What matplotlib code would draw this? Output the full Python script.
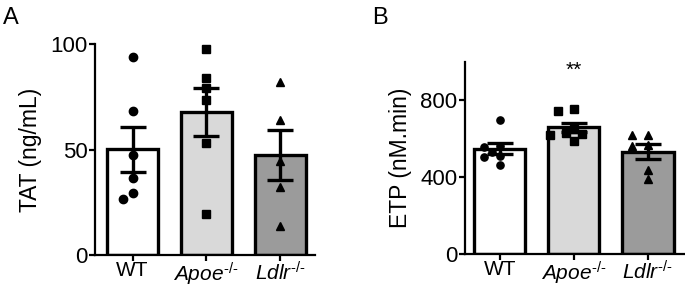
import matplotlib
matplotlib.use("Agg")
import matplotlib.pyplot as plt
import numpy as np

plt.rcParams['font.family'] = ['Liberation Sans', 'DejaVu Sans']
plt.rcParams['mathtext.fontset'] = 'custom'
plt.rcParams['mathtext.rm'] = 'Liberation Sans'
plt.rcParams['mathtext.it'] = 'Liberation Sans:italic'

groups = ['WT', r'$\mathit{Apoe}^{\mathit{\text{-/-}}}$', r'$\mathit{Ldlr}^{\text{-/-}}$']
bar_colors = ['white', '#d9d9d9', '#9b9b9b']
markers = ['o', 's', '^']

# panel A: TAT (ng/mL)
tat_wt = [93.7, 68.2, 47.2, 36.3, 29.2, 26.4]
tat_apoe = [97.5, 84.0, 79.0, 73.5, 53.2, 19.4]
tat_ldlr = [82.1, 64.0, 44.5, 32.1, 13.9]

# panel B: ETP (nM.min)
etp_wt = [696, 563, 556, 530, 512, 505, 465]
etp_apoe = [753, 745, 650, 630, 625, 620, 590]
etp_ldlr = [618, 618, 566, 560, 436, 388]


def swarm(ax, vals, diam_px):
    # simple beeswarm: offsets in pixels, converted to data x
    order = np.argsort(vals)[::-1]
    ypx = ax.transData.transform(np.c_[np.zeros(len(vals)), vals])[:, 1]
    placed = []
    offs = np.zeros(len(vals))
    for i in order:
        for k in [0, -1, 1, -2, 2, -3, 3]:
            ox = k * diam_px * 1.1
            ok = all(np.hypot(ox - px, ypx[i] - py) >= diam_px * 1.15 for px, py in placed)
            if ok:
                placed.append((ox, ypx[i]))
                offs[i] = ox
                break
    x0 = ax.transData.transform((0, 0))[0]
    x1 = ax.transData.transform((1, 0))[0]
    return offs / (x1 - x0)


def panel(ax, data, ylim, ticks, ylabel, msize):
    ax.set_xlim(-0.51, 2.47)
    ax.set_ylim(*ylim)
    for i, vals in enumerate(data):
        vals = np.array(vals, dtype=float)
        m = vals.mean()
        sem = vals.std(ddof=1) / np.sqrt(len(vals))
        ax.bar(i, m, width=0.69, color=bar_colors[i], edgecolor='black',
               linewidth=2.4, zorder=1)
        ax.errorbar(i, m, yerr=sem, color='black', elinewidth=2.4,
                    capsize=9.5, capthick=2.4, zorder=3)
        diam = msize * 100 / 72
        dx = swarm(ax, vals, diam)
        ax.plot(i + dx, vals, linestyle='none', marker=markers[i],
                color='black', markersize=msize, zorder=4, clip_on=False)
    ax.set_yticks(ticks)
    ax.set_xticks(range(3))
    ax.set_xticklabels(groups)
    ax.set_ylabel(ylabel, fontsize=16.5, labelpad=6)
    ax.spines['top'].set_visible(False)
    ax.spines['right'].set_visible(False)
    for s in ['left', 'bottom']:
        ax.spines[s].set_linewidth(1.6)
    ax.tick_params(width=1.6, length=4, labelsize=16, pad=1.5)
    ax.tick_params(axis='x', pad=0.3, labelsize=15)


fig = plt.figure(figsize=(6.85, 2.88), dpi=100)
ax1 = fig.add_axes([0.1387, 0.1146, 0.321, 0.7326])
ax2 = fig.add_axes([0.679, 0.118, 0.321, 0.668])

panel(ax1, [tat_wt, tat_apoe, tat_ldlr], (0, 100), [0, 50, 100], 'TAT (ng/mL)', 6)
panel(ax2, [etp_wt, etp_apoe, etp_ldlr], (0, 1000), [0, 400, 800], 'ETP (nM.min)', 5.2)
ax2.set_xlim(-0.47, 2.5)
ax2.text(1, 955, '**', ha='center', va='center', fontsize=15)

fig.text(0.004, 0.975, 'A', fontsize=17, va='top')
fig.text(0.543, 0.975, 'B', fontsize=17, va='top')

fig.savefig('out.png', dpi=100)
